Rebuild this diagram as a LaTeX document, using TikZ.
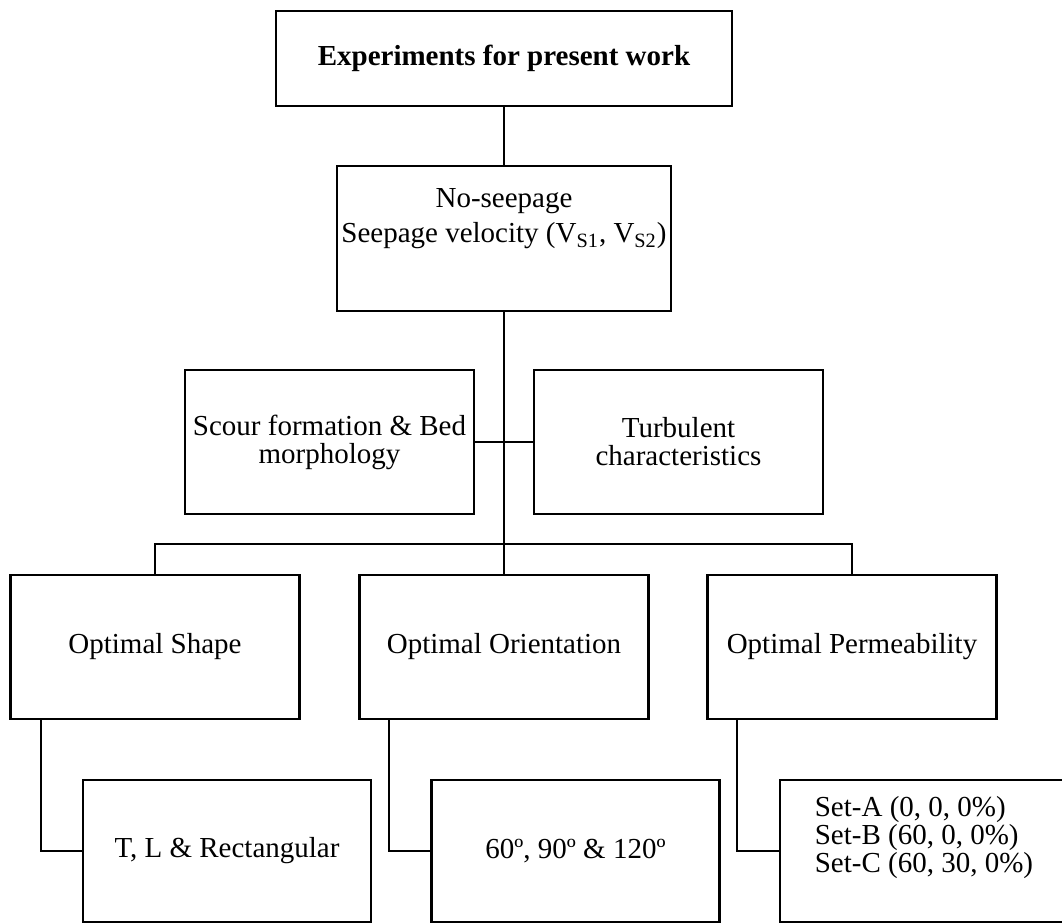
\documentclass[tikz,border=0pt]{standalone}
\usepackage{fontspec}
\setmainfont{Liberation Serif}

\tikzset{
    box/.style={rectangle, draw, line width=1.2pt, inner sep=0pt, outer sep=0pt, text centered, align=center,
        font=\fontsize{14.5}{14}\selectfont},
    midbox/.style={box, minimum width=144.5pt, minimum height=72pt},
    lowbox/.style={box, minimum width=144pt, minimum height=71pt},
    link/.style={line width=1pt},
}

\begin{document}
\begin{tikzpicture}[x=0.5pt, y=-0.5pt]
        \useasboundingbox (0,0) rectangle (1062,923);
        % top of the tree
        \node[box, minimum width=228pt, minimum height=47.5pt, font=\fontsize{14.5}{14}\selectfont\bfseries] at (504,58.5) (exp) {Experiments for present work};
        \node[box, minimum width=167pt, minimum height=72.5pt, font=\fontsize{14.5}{17.5}\selectfont] at (504,238.5) (seep) {No-seepage\\Seepage velocity (V\textsubscript{S1}, V\textsubscript{S2})\\\strut};
        \node[midbox] at (329.5,442) (scour) {Scour formation \& Bed\\morphology};
        \node[midbox] at (678.5,442) (turb) {Turbulent\\characteristics};
        % optimal studies
        \node[midbox] at (155,647) (shape) {Optimal Shape};
        \node[midbox] at (504,647) (orient) {Optimal Orientation};
        \node[midbox] at (852,647) (perm) {Optimal Permeability};
        \node[lowbox] at (227,851) (tl) {T, L \& Rectangular};
        \node[lowbox] at (575.5,851) (angle) {60º, 90º \& 120º};
        \node[lowbox, align=left, text depth=17pt] at (924,851) (sets) {Set-A (0, 0, 0\%)\\Set-B (60, 0, 0\%)\\Set-C (60, 30, 0\%)};
        \coordinate (bus) at (504,544);

        \draw[link] (exp) -- (seep);
        \draw[link] (seep) -- (orient);
        \draw[link] (scour) -- (turb);
        \draw[link] (shape.north) |- (bus) -| (perm.north);
        \draw[link] ([xshift=15pt]shape.south west) |- (tl.west);
        \draw[link] ([xshift=14.5pt]orient.south west) |- (angle.west);
        \draw[link] ([xshift=14.5pt]perm.south west) |- (sets.west);
\end{tikzpicture}
\end{document}
